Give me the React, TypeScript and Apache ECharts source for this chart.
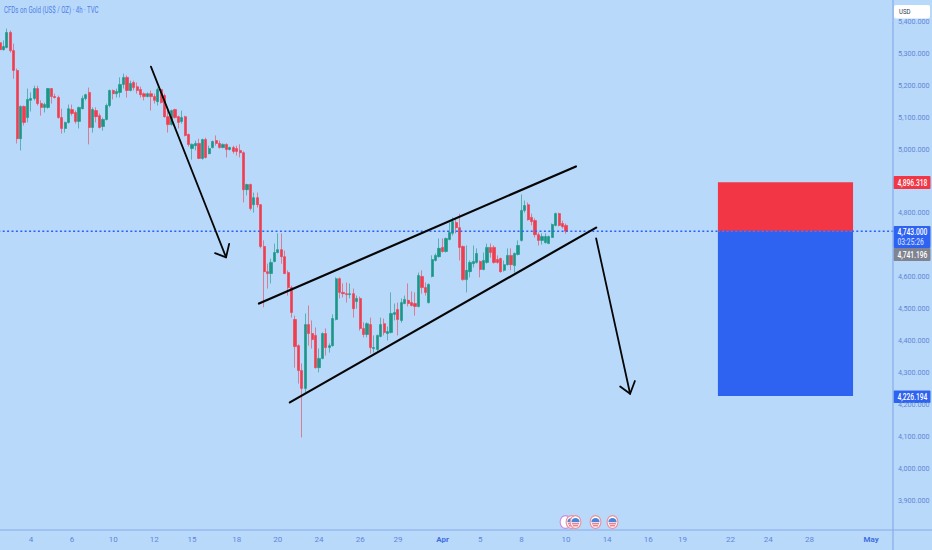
import React, { useEffect, useRef } from "react";
import * as echarts from "echarts";

// [open, close, low, high]
const candlesFirstLeg = [
  [5334,5312,5309,5337],[5312,5322,5309,5341],[5319,5366,5316,5378],[5366,5309,5303,5372],[5309,5247,5221,5331],
  [5247,5033,5018,5253],[5033,5134,4996,5137],[5134,5084,5074,5137],[5099,5156,5084,5190],[5153,5159,5118,5178],
  [5159,5190,5153,5199],[5190,5143,5137,5199],[5143,5131,5105,5153],[5131,5140,5115,5146],[5131,5190,5127,5192],
  [5190,5165,5143,5192],[5165,5162,5159,5174],[5162,5099,5096,5168],[5099,5065,5049,5127],[5065,5084,5052,5086],
  [5084,5127,5080,5140],[5124,5112,5105,5140],[5115,5087,5080,5121],[5087,5131,5065,5133],[5127,5159,5125,5168],
  [5159,5171,5153,5174],[5178,5068,5015,5193],[5068,5124,5052,5131],[5121,5102,5084,5131],[5105,5068,5065,5112],
  [5071,5093,5058,5099],[5093,5137,5090,5143],[5137,5184,5131,5187],[5184,5174,5156,5187],[5174,5181,5162,5190],
  [5178,5203,5162,5225],[5203,5225,5190,5237],[5225,5184,5162,5231],[5184,5206,5181,5215],[5209,5193,5184,5215],
  [5196,5184,5174,5209],[5187,5171,5162,5196],[5174,5165,5153,5178],[5165,5174,5162,5178],[5174,5165,5121,5184],
  [5165,5153,5143,5174],
];
const candlesSlide = [
  [5149,5187,5137,5193],[5187,5146,5143,5190],[5168,5102,5099,5174],[5102,5077,5052,5127],[5077,5121,5074,5124],
  [5124,5099,5096,5127],[5102,5084,5065,5105],[5087,5099,5080,5121],[5102,5043,5040,5105],[5046,5015,5008,5049],
  [5002,5015,4967,5018],[5011,5018,4996,5027],[5018,4971,4969,5033],[4971,5030,4967,5033],[5030,4974,4971,5036],
  [4986,5002,4984,5011],[5005,5024,5002,5027],[5027,5018,5011,5043],[5018,5005,5002,5027],[5005,5015,5003,5018],
  [5015,4999,4974,5018],[4999,5005,4996,5008],[5005,4993,4986,5011],[5002,4993,4980,5011],[4996,4989,4974,5015],
  [4989,4873,4833,4993],[4873,4889,4855,4892],[4889,4814,4808,4892],[4826,4848,4801,4864],[4848,4826,4817,4864],
  [4826,4695,4689,4828],[4695,4616,4504,4714],[4616,4610,4563,4641],[4610,4645,4579,4657],[4648,4676,4645,4704],
  [4676,4685,4673,4736],[4685,4663,4641,4736],[4663,4610,4608,4682],[4613,4566,4541,4620],[4566,4488,4472,4572],
  [4466,4381,4315,4478],[4384,4306,4265,4388],[4306,4250,4096,4328],
];
const candlesRebound = [
  [4250,4450,4237,4485],[4450,4422,4384,4510],[4422,4403,4375,4463],[4416,4315,4312,4441],[4315,4344,4300,4375],
  [4344,4422,4341,4425],[4422,4378,4353,4438],[4378,4384,4362,4391],[4384,4469,4381,4482],[4466,4594,4463,4598],
  [4594,4551,4532,4598],[4551,4547,4535,4579],[4547,4544,4519,4582],[4544,4547,4532,4579],[4547,4500,4472,4563],
  [4522,4532,4500,4541],[4532,4438,4431,4538],[4438,4419,4410,4457],[4419,4453,4410,4457],[4450,4378,4359,4472],
  [4375,4378,4362,4416],[4372,4416,4362,4419],[4413,4450,4410,4472],[4453,4425,4416,4469],[4422,4428,4400,4444],
  [4425,4485,4422,4551],[4482,4488,4463,4516],[4497,4466,4416,4519],[4463,4519,4456,4532],[4516,4529,4514,4541],
  [4526,4516,4507,4579],[4519,4510,4507,4554],[4516,4507,4478,4551],[4507,4604,4504,4613],
];
const candlesChannel = [
  [4601,4566,4547,4620],[4566,4551,4541,4582],[4519,4576,4516,4579],[4601,4654,4598,4667],[4651,4667,4648,4673],
  [4663,4689,4660,4720],[4692,4679,4676,4720],[4679,4720,4676,4723],[4717,4739,4714,4770],[4736,4773,4729,4786],
  [4770,4754,4736,4783],[4754,4692,4651,4798],[4695,4591,4588,4698],[4591,4620,4551,4698],[4616,4645,4598,4651],
  [4641,4648,4629,4698],[4645,4673,4641,4689],[4648,4623,4598,4651],[4623,4651,4620,4676],[4645,4692,4641,4704],
  [4692,4676,4660,4704],[4692,4645,4641,4698],[4654,4645,4641,4667],[4657,4616,4613,4660],[4620,4638,4616,4651],
  [4638,4667,4635,4689],[4667,4638,4620,4689],[4635,4673,4613,4676],[4670,4698,4667,4714],[4714,4808,4710,4858],
  [4808,4823,4801,4839],[4826,4779,4776,4833],[4786,4773,4761,4798],[4776,4732,4723,4783],[4732,4714,4698,4739],
  [4714,4726,4701,4736],[4707,4726,4704,4736],[4704,4726,4704,4729],[4723,4764,4723,4767],[4761,4798,4758,4801],
  [4798,4761,4758,4801],[4767,4757,4751,4776],[4761,4743,4735,4767],
];

const barSlots = 261;
const timeLabels = ["4","6","10","12","15","18","20","24","26","29","Apr","5","8","10","14","16","19","22","24","28","May"];
const timeLabelSlots = [9,21,33,45,56,69,81,93,105,116,129,140,152,165,177,189,199,213,224,236,254];
const monthLabels = ["Apr","May"];
const coveredTicks = [4700, 4900];

const lastPrice = 4743;
const stopPrice = 4896.318;
const targetPrice = 4226.194;
const bidPrice = "4,741.196";
const countdown = "03:25:26";
const positionSlots = [209.8, 249.2];

const arrowOneShaft = [[44.5,5259],[66.4,4661]];
const arrowOneHead = [[63.2,4674],[66.4,4661],[67.3,4703]];
const arrowTwoShaft = [[174.3,4720],[184.2,4233]];
const arrowTwoHead = [[181.3,4256],[184.2,4233],[185.6,4273]];
const channelUpper = [[76,4516],[168.4,4946]];
const channelLower = [[85,4206],[174.3,4754]];

const titleText = "CFDs on Gold (US$ / OZ) · 4h · TVC";
const currencyText = "USD";

const FONT = "Roboto, sans-serif";
const BG = "#b9d9fb";
const RED = "#f23645";
const GREEN = "#11937f";
const BLUE = "#2e63f2";
const AXIS = "#86ace9";
const LABEL = "#5f86d8";

const money = (v: number, digits = 3) =>
  v.toLocaleString("en-US", { minimumFractionDigits: digits, maximumFractionDigits: digits });

const overlay = (data: number[][], width: number, z = 6) => ({
  type: "line",
  xAxisIndex: 1,
  yAxisIndex: 0,
  data,
  symbol: "none",
  silent: true,
  z,
  lineStyle: { color: "#060606", width, cap: "round", join: "round" },
});

const usFlag = (x: number, y: number) => ({
  type: "group",
  x,
  y,
  z: 50,
  children: [
    { type: "ellipse", shape: { cx: 0, cy: 0, rx: 5.4, ry: 6.4 }, style: { fill: "#ffffff", stroke: "#ee8d9c", lineWidth: 1.1 } },
    { type: "sector", shape: { cx: 0, cy: 0.2, r: 4.2, r0: 0, startAngle: Math.PI, endAngle: 2 * Math.PI }, style: { fill: "#4a86d8" } },
    { type: "line", shape: { x1: -3.6, y1: 1.8, x2: 3.6, y2: 1.8 }, style: { stroke: "#e8566a", lineWidth: 1.1 } },
    { type: "line", shape: { x1: -2.6, y1: 3.8, x2: 2.6, y2: 3.8 }, style: { stroke: "#e8566a", lineWidth: 1.1 } },
  ],
});

const priceTag = (y: number, h: number, fill: string, lines: { text: string; dy: number; color?: string }[]) => ({
  type: "group",
  z: 60,
  children: [
    { type: "rect", shape: { x: 893.5, y, width: 37, height: h, r: 1 }, style: { fill } },
    ...lines.map((l) => ({
      type: "text",
      x: 897.5,
      y: y + l.dy,
      scaleX: 0.76,
      style: { text: l.text, fill: l.color ?? "#ffffff", font: `500 8.8px ${FONT}`, textVerticalAlign: "middle" },
    })),
  ],
});

export default function App() {
  const ref = useRef<HTMLDivElement | null>(null);

  useEffect(() => {
    if (!ref.current) return;
    const chart = echarts.init(ref.current, undefined, { renderer: "svg" });
    const candles = [...candlesFirstLeg, ...candlesSlide, ...candlesRebound, ...candlesChannel];
    const categories = Array.from({ length: barSlots }, (_, i) => {
      const at = timeLabelSlots.indexOf(i);
      const value = at >= 0 ? timeLabels[at] : "";
      return monthLabels.includes(value)
        ? { value, textStyle: { fontWeight: "bold" as const, color: "#3f6fe0" } }
        : { value };
    });

    chart.setOption({
      animation: false,
      backgroundColor: BG,
      grid: { left: -1.7, top: -10.3, width: 895.23, height: 542.2, containLabel: false, outerBoundsMode: "none" },
      xAxis: [
        {
          type: "category",
          data: categories,
          axisLine: { show: false },
          axisTick: { show: false },
          splitLine: { show: false },
          axisLabel: {
            interval: (i: number) => timeLabelSlots.includes(i),
            hideOverlap: false,
            margin: 3.5,
            fontSize: 8,
            fontFamily: FONT,
            color: LABEL,
          },
        },
        { type: "value", min: 0, max: barSlots, show: false },
      ],
      yAxis: {
        type: "value",
        position: "right",
        min: 3800,
        max: 5500,
        interval: 100,
        axisLine: { show: false },
        axisTick: { show: false },
        splitLine: { show: false },
        axisLabel: {
          showMinLabel: false,
          showMaxLabel: false,
          margin: 4.5,
          fontSize: 7.2,
          fontFamily: FONT,
          color: LABEL,
          formatter: (v: number) => (coveredTicks.includes(v) ? "" : money(v)),
        },
      },
      series: [
        {
          type: "line",
          xAxisIndex: 1,
          data: [],
          symbol: "none",
          silent: true,
          z: 1,
          markArea: {
            silent: true,
            data: [
              [{ coord: [positionSlots[0], stopPrice], itemStyle: { color: RED } }, { coord: [positionSlots[1], lastPrice] }],
              [{ coord: [positionSlots[0], lastPrice], itemStyle: { color: BLUE } }, { coord: [positionSlots[1], targetPrice] }],
            ],
          },
        },
        {
          type: "candlestick",
          xAxisIndex: 0,
          data: candles,
          barWidth: 2.7,
          z: 3,
          itemStyle: {
            color: GREEN,
            color0: RED,
            borderColor: GREEN,
            borderColor0: RED,
            borderWidth: 0.6,
            opacity: 0.95,
          },
        },
        {
          type: "line",
          xAxisIndex: 1,
          data: [[0, lastPrice], [barSlots, lastPrice]],
          symbol: "none",
          silent: true,
          z: 4,
          lineStyle: { color: "#2962ff", width: 1.5, type: [2, 2.4] },
        },
        overlay(channelUpper, 2.2),
        overlay(channelLower, 2.2),
        overlay(arrowOneShaft, 1.8),
        overlay(arrowOneHead, 1.8),
        overlay(arrowTwoShaft, 1.8),
        overlay(arrowTwoHead, 1.8),
      ],
      graphic: [
        { type: "line", z: 40, shape: { x1: 0, y1: 530, x2: 932, y2: 530 }, style: { stroke: AXIS, lineWidth: 1.2 } },
        { type: "line", z: 40, shape: { x1: 893, y1: 0, x2: 893, y2: 550 }, style: { stroke: AXIS, lineWidth: 1.2 } },
        {
          type: "text",
          x: 4,
          y: 10.5,
          z: 40,
          scaleX: 0.68,
          style: { text: titleText, fill: "#4e7fe6", font: `9px ${FONT}`, textVerticalAlign: "middle" },
        },
        { type: "rect", z: 60, shape: { x: 894, y: 5, width: 36, height: 13.5, r: 2 }, style: { fill: "#ffffff" } },
        {
          type: "text",
          x: 899,
          y: 11.5,
          z: 61,
          scaleX: 0.76,
          style: { text: currencyText, fill: "#333a48", font: `8px ${FONT}`, textVerticalAlign: "middle" },
        },
        {
          type: "group",
          x: 565.5,
          y: 522,
          z: 49,
          children: [
            { type: "ellipse", shape: { cx: 0, cy: 0, rx: 5.4, ry: 6.4 }, style: { fill: "#ffffff", stroke: "#c78de8", lineWidth: 1.1 } },
          ],
        },
        usFlag(571.5, 522),
        usFlag(575.5, 522),
        usFlag(595.5, 522),
        usFlag(612.5, 522),
        priceTag(176, 13, RED, [{ text: money(stopPrice), dy: 6.7 }]),
        priceTag(226, 22, BLUE, [
          { text: money(lastPrice), dy: 6.5 },
          { text: countdown, dy: 16.5, color: "#c7d8ff" },
        ]),
        priceTag(248, 13, "#7f8490", [{ text: bidPrice, dy: 6.7 }]),
        priceTag(390.5, 12.5, BLUE, [{ text: money(targetPrice), dy: 6.4 }]),
      ],
    });
    return () => chart.dispose();
  }, []);

  return (
    <div
      ref={ref}
      style={{ position: "fixed", left: 0, top: 0, width: 932, height: 550, background: BG }}
    />
  );
}
